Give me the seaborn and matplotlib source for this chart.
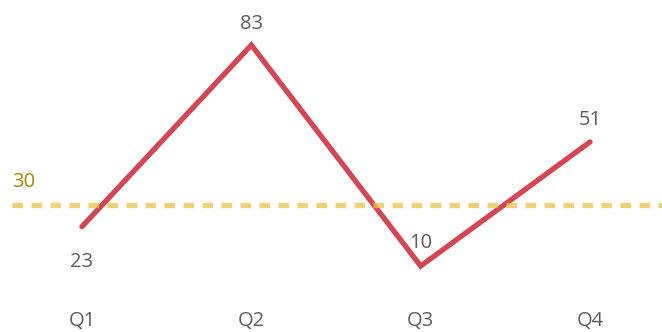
import pandas as pd
import matplotlib
matplotlib.use("Agg")
import matplotlib.pyplot as plt
import seaborn as sns

quarters = ["Q1", "Q2", "Q3", "Q4"]
values = [23, 83, 10, 51]
target = 30

df = pd.DataFrame({"quarter": quarters, "value": values})

sns.set_style("white")
plt.rcParams["font.family"] = ["Open Sans", "DejaVu Sans"]

fig = plt.figure(figsize=(6.62, 3.32), dpi=100)
ax = fig.add_axes([0, 27 / 332, 1, 305 / 332])

sns.lineplot(data=df, x="quarter", y="value", color="#D64550", linewidth=3.8,
             solid_capstyle="round", solid_joinstyle="miter", sort=False, ax=ax)

# ligne cible
ax.axhline(target, xmin=12 / 662, xmax=1, color="#E8C547", alpha=0.75,
           linewidth=3.8, linestyle=(0, (2.0, 1.6)), zorder=3)
ax.text(-0.415, target + 4.3, str(target), color="#A88A00", fontsize=14.5,
        ha="left", va="bottom")

# etiquettes
offsets = {0: -8.4, 1: 3.8, 2: 4.3, 3: 3.8}
for i, v in enumerate(values):
    dy = offsets[i]
    ax.text(i, v + dy, str(v), color="#605E5C", fontsize=14.5,
            ha="center", va="top" if dy < 0 else "bottom")

ax.set_xlim(-0.484, 3.425)
ax.set_ylim(-2.88, 97.9)
ax.set_xlabel("")
ax.set_ylabel("")
ax.set_yticks([])
ax.tick_params(axis="x", length=0, pad=4, labelsize=14.5, labelcolor="#605E5C")
sns.despine(left=True, bottom=True)

fig.savefig("out.png", dpi=100)
